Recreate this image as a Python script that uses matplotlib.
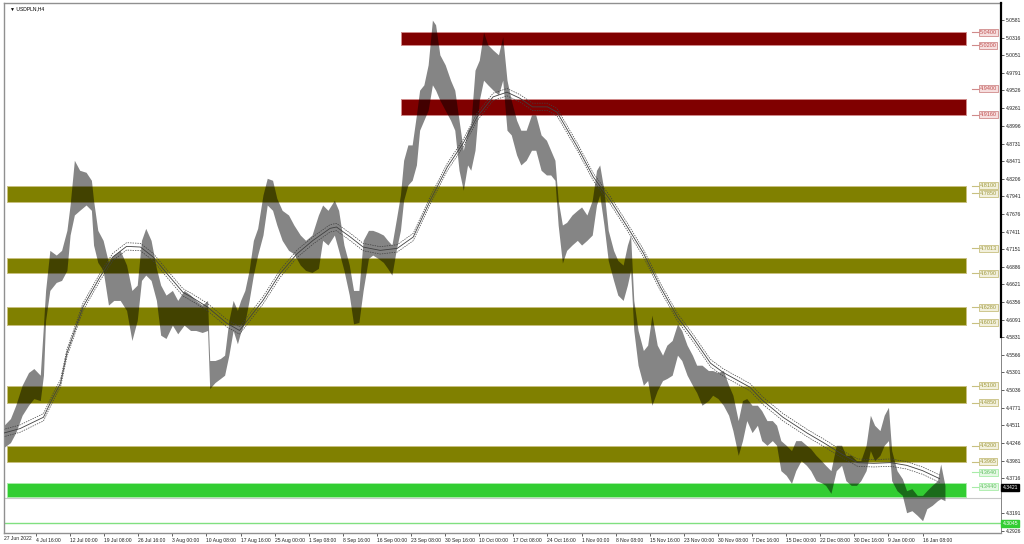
import matplotlib
matplotlib.use("Agg")
import matplotlib.pyplot as plt
from matplotlib.patches import Rectangle
from matplotlib.transforms import blended_transform_factory

plt.rcParams['font.family'] = ['Liberation Sans', 'DejaVu Sans']

symbol = "USDPLN,H4"

# H4 bars, sampled along the chart: bar number, high, low
bar_idx = [4, 10, 15, 21, 27, 32, 38, 41, 43, 47, 53, 58, 63, 66, 70, 75, 81, 86, 88, 92,
           97, 102, 107, 113, 119, 124, 129, 133, 137, 142, 147, 151, 156, 162, 167, 173, 179, 184, 190, 195,
           197, 202, 207, 211, 215, 219, 223, 226, 230, 234, 238, 242, 247, 251, 256, 260, 265, 271, 276, 282,
           287, 293, 299, 303, 308, 314, 318, 323, 328, 332, 337, 341, 346, 350, 355, 360, 364, 368, 372, 376,
           379, 383, 387, 391, 394, 398, 402, 406, 409, 413, 418, 423, 427, 431, 435, 439, 442, 446, 450, 454,
           458, 463, 468, 472, 476, 480, 485, 489, 494, 499, 503, 508, 513, 517, 521, 524, 528, 532, 537, 542,
           546, 551, 556, 560, 563, 567, 571, 576, 580, 585, 589, 592, 595, 599, 604, 608, 612, 617, 622, 626,
           631, 636, 640, 645, 650, 654, 659, 665, 669, 674, 679, 684, 688, 693, 697, 701, 706, 711, 715, 720,
           725, 729, 733, 738, 743, 747, 752, 757, 761, 766, 771, 775, 780, 785, 790, 794, 799, 804, 808, 813,
           817, 821, 826, 830, 834, 837, 842, 847, 851, 856, 861, 866, 870, 875, 880, 883, 887]
bar_high = [4.451, 4.461, 4.481, 4.511, 4.530, 4.536, 4.526, 4.601, 4.653, 4.713, 4.706, 4.713, 4.743, 4.781, 4.848, 4.833, 4.830, 4.818, 4.788, 4.743,
            4.728, 4.695, 4.706, 4.713, 4.691, 4.653, 4.661, 4.728, 4.746, 4.728, 4.686, 4.661, 4.646, 4.653, 4.638, 4.653, 4.646, 4.638, 4.631, 4.638,
            4.548, 4.548, 4.551, 4.556, 4.608, 4.638, 4.623, 4.638, 4.653, 4.683, 4.728, 4.746, 4.796, 4.821, 4.818, 4.791, 4.773, 4.766, 4.751, 4.736,
            4.728, 4.736, 4.766, 4.781, 4.773, 4.788, 4.773, 4.721, 4.691, 4.653, 4.653, 4.728, 4.743, 4.743, 4.740, 4.736, 4.728, 4.721, 4.758, 4.796,
            4.848, 4.871, 4.871, 4.916, 4.953, 4.961, 4.991, 5.058, 5.051, 5.006, 4.991, 4.968, 4.953, 4.908, 4.863, 4.893, 4.901, 4.983, 4.998, 5.040,
            5.021, 5.013, 5.006, 5.033, 4.968, 4.938, 4.908, 4.893, 4.893, 4.916, 4.916, 4.886, 4.878, 4.863, 4.848, 4.788, 4.751, 4.755, 4.766, 4.773,
            4.778, 4.766, 4.788, 4.833, 4.841, 4.803, 4.743, 4.713, 4.698, 4.691, 4.721, 4.736, 4.638, 4.593, 4.563, 4.571, 4.616, 4.571, 4.556, 4.571,
            4.578, 4.603, 4.593, 4.571, 4.556, 4.541, 4.541, 4.533, 4.533, 4.530, 4.533, 4.511, 4.496, 4.458, 4.488, 4.491, 4.481, 4.481, 4.473, 4.458,
            4.458, 4.451, 4.428, 4.421, 4.413, 4.428, 4.428, 4.421, 4.416, 4.406, 4.398, 4.391, 4.383, 4.421, 4.421, 4.406, 4.406, 4.398, 4.398, 4.421,
            4.466, 4.451, 4.443, 4.466, 4.478, 4.413, 4.383, 4.371, 4.353, 4.356, 4.346, 4.346, 4.353, 4.361, 4.368, 4.393, 4.361]
bar_low = [4.418, 4.425, 4.440, 4.466, 4.481, 4.491, 4.488, 4.526, 4.608, 4.653, 4.665, 4.668, 4.683, 4.736, 4.766, 4.773, 4.781, 4.773, 4.721, 4.695,
           4.683, 4.631, 4.638, 4.638, 4.623, 4.578, 4.608, 4.668, 4.676, 4.668, 4.638, 4.586, 4.581, 4.601, 4.588, 4.601, 4.593, 4.593, 4.590, 4.593,
           4.506, 4.515, 4.521, 4.526, 4.556, 4.593, 4.573, 4.590, 4.605, 4.638, 4.676, 4.706, 4.736, 4.781, 4.773, 4.751, 4.728, 4.713, 4.708, 4.691,
           4.683, 4.680, 4.686, 4.728, 4.721, 4.736, 4.713, 4.683, 4.646, 4.603, 4.605, 4.653, 4.701, 4.706, 4.701, 4.695, 4.686, 4.676, 4.713, 4.743,
           4.788, 4.811, 4.818, 4.841, 4.893, 4.908, 4.923, 4.961, 4.953, 4.938, 4.923, 4.908, 4.893, 4.833, 4.803, 4.841, 4.833, 4.863, 4.938, 4.968,
           4.961, 4.953, 4.946, 4.968, 4.893, 4.886, 4.856, 4.841, 4.848, 4.863, 4.863, 4.833, 4.826, 4.826, 4.818, 4.751, 4.694, 4.713, 4.721, 4.728,
           4.721, 4.728, 4.736, 4.781, 4.796, 4.751, 4.698, 4.668, 4.646, 4.638, 4.661, 4.683, 4.593, 4.541, 4.511, 4.518, 4.481, 4.503, 4.518, 4.521,
           4.526, 4.556, 4.548, 4.526, 4.511, 4.500, 4.481, 4.488, 4.496, 4.491, 4.481, 4.466, 4.443, 4.406, 4.428, 4.458, 4.440, 4.451, 4.428, 4.421,
           4.428, 4.421, 4.383, 4.376, 4.364, 4.383, 4.398, 4.391, 4.383, 4.368, 4.365, 4.361, 4.349, 4.383, 4.391, 4.368, 4.361, 4.361, 4.368, 4.383,
           4.413, 4.398, 4.406, 4.421, 4.428, 4.368, 4.353, 4.346, 4.320, 4.323, 4.316, 4.308, 4.326, 4.331, 4.338, 4.341, 4.338]
last_price = 4.3421

# moving average and its band
ma_idx = [3, 19, 41, 50, 57, 63, 78, 94, 106, 119, 132, 144, 157, 172, 181, 195, 213, 225, 247, 263,
          279, 294, 310, 316, 329, 341, 357, 373, 388, 404, 420, 435, 448, 463, 476, 488, 500, 514, 523, 542,
          557, 573, 589, 604, 620, 636, 651, 667, 679, 704, 716, 735, 758, 773, 789, 805, 820, 836, 851, 866, 882]
ma_val = [4.439, 4.446, 4.463, 4.493, 4.514, 4.559, 4.628, 4.673, 4.703, 4.719, 4.718, 4.703, 4.678, 4.650, 4.642, 4.628, 4.604, 4.593, 4.638, 4.678,
          4.708, 4.728, 4.746, 4.748, 4.733, 4.718, 4.713, 4.716, 4.733, 4.788, 4.838, 4.874, 4.913, 4.943, 4.950, 4.941, 4.928, 4.928, 4.920, 4.868,
          4.823, 4.788, 4.748, 4.709, 4.658, 4.613, 4.581, 4.544, 4.530, 4.508, 4.488, 4.463, 4.439, 4.425, 4.409, 4.395, 4.394, 4.395, 4.391, 4.383, 4.371]
ma_band = 0.0055

# supply / demand zones
zone_top = [5.0400, 4.9400, 4.8100, 4.7013, 4.6280, 4.5100, 4.4200, 4.3640]
zone_bot = [5.0200, 4.9160, 4.7850, 4.6790, 4.6016, 4.4850, 4.3965, 4.3440]
zone_kind = ["sell", "sell", "mid", "mid", "mid", "mid", "mid", "buy"]
zone_from = [377, 377, 7, 7, 7, 7, 7, 7]
zone_to = 907
target_line = 4.3045

price_ticks = [5.0581, 5.0316, 5.0051, 4.9791, 4.9526, 4.9261, 4.8996, 4.8731, 4.8471, 4.8206,
               4.7941, 4.7676, 4.7411, 4.7151, 4.6886, 4.6621, 4.6356, 4.6091, 4.5831, 4.5566,
               4.5301, 4.5036, 4.4771, 4.4511, 4.4246, 4.3981, 4.3716, 4.3191, 4.2926]
time_labels = ["4 Jul 16:00", "12 Jul 00:00", "19 Jul 08:00", "26 Jul 16:00", "3 Aug 00:00",
               "10 Aug 08:00", "17 Aug 16:00", "25 Aug 00:00", "1 Sep 08:00", "8 Sep 16:00",
               "16 Sep 00:00", "23 Sep 08:00", "30 Sep 16:00", "10 Oct 00:00", "17 Oct 08:00",
               "24 Oct 16:00", "1 Nov 00:00", "8 Nov 08:00", "15 Nov 16:00", "23 Nov 00:00",
               "30 Nov 08:00", "7 Dec 16:00", "15 Dec 00:00", "22 Dec 08:00", "30 Dec 16:00",
               "9 Jan 00:00", "16 Jan 08:00"]
time_ticks = [34 + 32 * k for k in range(len(time_labels))]
first_label = "27 Jun 2022"

zone_face = {"sell": "#800000", "mid": "#808000", "buy": "#32cd32"}
zone_edge = {"sell": "#d08a8a", "mid": "#c8c080", "buy": "#a8eca8"}
label_fill = {"sell": "#f6dede", "mid": "#f2f0dc", "buy": "#e4f8e4"}
label_text = {"sell": "#c05050", "mid": "#a09a40", "buy": "#60c060"}
# some right-hand labels sit a little above their level (pixels)
label_shift = [0, 0, 10, 0, 0, 9, 10, 0, 0, 2, 0, 0, 0, 0, 11, 10]
FS = 3.6

fig = plt.figure(figsize=(10.24, 5.44), dpi=100)
ax = fig.add_axes([4 / 1024, 11 / 544, 997 / 1024, 530 / 544])
ax.set_xlim(3.97, 939.6)
ax.set_ylim(4.2896, 5.0836)

for top, bot, kind, x0 in zip(zone_top, zone_bot, zone_kind, zone_from):
    ax.add_patch(Rectangle((x0, bot), zone_to - x0, top - bot, facecolor=zone_face[kind],
                           edgecolor=zone_edge[kind], lw=0.7, zorder=1))

ax.axhline(target_line, color="#80e080", lw=1.0, zorder=1)
ax.axhline(last_price, color="#c8c8c8", lw=0.8, zorder=1)

# price bars as a high-low band
ax.fill_between(bar_idx, bar_low, bar_high, color="black", alpha=0.48, lw=0, zorder=2)

ma_hi = [v + ma_band for v in ma_val]
ma_lo = [v - ma_band for v in ma_val]
ax.plot(ma_idx, ma_val, color="#404040", lw=0.6, zorder=3)
ax.plot(ma_idx, ma_hi, color="#404040", lw=0.5, ls=(0, (2, 1.5)), zorder=3)
ax.plot(ma_idx, ma_lo, color="#404040", lw=0.5, ls=(0, (2, 1.5)), zorder=3)

# right-hand level labels
tr = blended_transform_factory(ax.transAxes, ax.transData)
levels = []
for top, bot, kind in zip(zone_top, zone_bot, zone_kind):
    levels += [(top, kind), (bot, kind)]
for (lvl, kind), sh in zip(levels, label_shift):
    yy = lvl + sh / 667.5
    ax.plot([0.9705, 0.9775], [yy, yy], color=zone_edge[kind], lw=0.8, transform=tr, zorder=4)
    ax.text(0.9785, yy, "%.4f" % lvl, transform=tr, fontsize=4.0, color=label_text[kind],
            ha="left", va="center", zorder=5,
            bbox=dict(boxstyle="square,pad=0.18", facecolor=label_fill[kind], edgecolor=zone_edge[kind], lw=0.6))

# price scale
ax.yaxis.tick_right()
ax.set_yticks(price_ticks)
ax.set_yticklabels(["%.4f" % v for v in price_ticks])
ax.tick_params(axis="y", direction="out", length=2, width=0.5, pad=1.5, labelsize=FS, colors="#202020")
ax.text(1.0015, last_price + 10 / 667.5, "%.4f" % last_price, transform=tr, fontsize=FS, color="white",
        ha="left", va="center", bbox=dict(boxstyle="square,pad=0.2", facecolor="black", edgecolor="black"))
ax.text(1.0015, target_line, "%.4f" % target_line, transform=tr, fontsize=FS, color="white",
        ha="left", va="center", bbox=dict(boxstyle="square,pad=0.2", facecolor="#32cd32", edgecolor="#32cd32"))

# time scale
ax.set_xticks(time_ticks)
ax.set_xticklabels(time_labels, ha="left")
ax.tick_params(axis="x", direction="out", length=2, width=0.5, pad=1.5, labelsize=FS, colors="#202020")
ax.text(0.0, -0.006, first_label, transform=ax.transAxes, fontsize=FS, color="#202020", ha="left", va="top")

for side in ["left", "top", "bottom"]:
    ax.spines[side].set_color("#909090")
    ax.spines[side].set_linewidth(1.0)
ax.spines["right"].set_color("#707070")
ax.spines["right"].set_linewidth(0.6)
# the thicker part of the price scale line
ax.plot([1.0, 1.0], [0.37, 1.0], color="black", lw=1.6, transform=ax.transAxes, clip_on=False, zorder=6)

ax.text(0.006, 0.993, "\u25bc " + symbol, transform=ax.transAxes, fontsize=FS, color="black",
        ha="left", va="top")

fig.savefig("out.png", dpi=100)
